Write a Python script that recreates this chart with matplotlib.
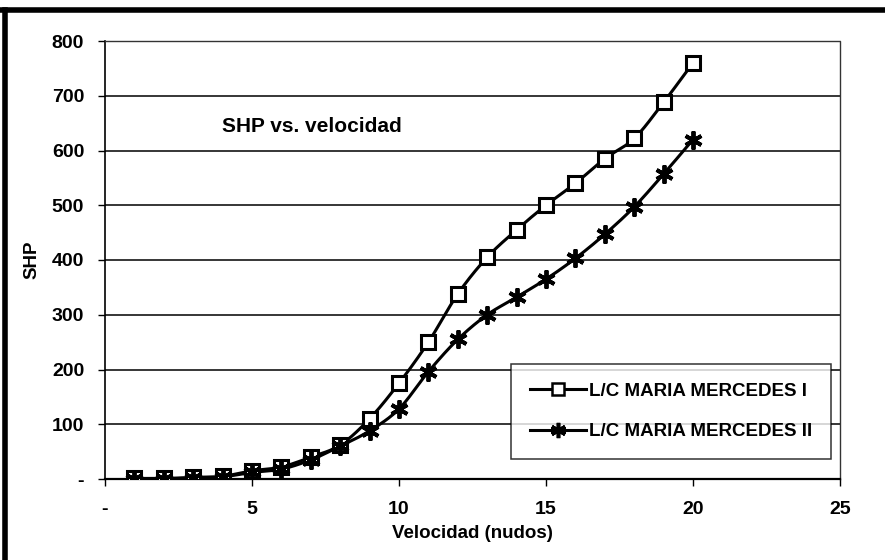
import numpy as np
import matplotlib
matplotlib.use("Agg")
import matplotlib.pyplot as plt
from matplotlib.lines import Line2D

# ---- data ----
velocidad = [1, 2, 3, 4, 5, 6, 7, 8, 9, 10, 11, 12, 13, 14, 15, 16, 17, 18, 19, 20]
shp_mm1 = [1, 1, 3, 5, 15, 22, 40, 62, 110, 175, 250, 338, 405, 455, 500, 540, 585, 622, 688, 760]
shp_mm2 = [0, 0, 2, 4, 12, 18, 35, 60, 88, 128, 196, 255, 300, 332, 365, 403, 447, 497, 557, 620]
series_names = ["L/C MARIA MERCEDES I", "L/C MARIA MERCEDES II"]
y_ticks = [0, 100, 200, 300, 400, 500, 600, 700, 800]
y_tick_labels = ["-", "100", "200", "300", "400", "500", "600", "700", "800"]
x_ticks = [0, 5, 10, 15, 20, 25]
x_tick_labels = ["-", "5", "10", "15", "20", "25"]
title_text = "SHP vs. velocidad"
x_label = "Velocidad (nudos)"
y_label = "SHP"

plt.rcParams['font.family'] = ['Liberation Sans', 'DejaVu Sans']
plt.rcParams['font.weight'] = 'bold'


def smooth(xs, ys, n=20):
    """Catmull-Rom style smoothing of the drawn line (like Excel smoothed lines)."""
    xs = np.asarray(xs, float)
    ys = np.asarray(ys, float)
    px = np.concatenate([[2 * xs[0] - xs[1]], xs, [2 * xs[-1] - xs[-2]]])
    py = np.concatenate([[2 * ys[0] - ys[1]], ys, [2 * ys[-1] - ys[-2]]])
    ox, oy = [], []
    t = np.linspace(0, 1, n, endpoint=False)
    for i in range(1, len(px) - 2):
        for arr, out in ((px, ox), (py, oy)):
            p0, p1, p2, p3 = arr[i - 1], arr[i], arr[i + 1], arr[i + 2]
            seg = 0.5 * ((2 * p1) + (-p0 + p2) * t + (2 * p0 - 5 * p1 + 4 * p2 - p3) * t ** 2
                         + (-p0 + 3 * p1 - 3 * p2 + p3) * t ** 3)
            out.extend(seg)
    ox.append(xs[-1])
    oy.append(ys[-1])
    return np.array(ox), np.array(oy)


fig = plt.figure(figsize=(8.85, 5.6), dpi=100)
ax = fig.add_axes([105 / 885, 1 - 479 / 560, (840 - 105) / 885, (479 - 41) / 560])

# gridlines
for yv in y_ticks[1:-1]:
    ax.axhline(yv, color='black', lw=1.1, zorder=1)

lw = 2.2
sx, sy = smooth(velocidad, shp_mm1)
ax.plot(sx, sy, color='black', lw=lw, zorder=3)
ax.plot(velocidad, shp_mm1, ls='none', marker='s', ms=10.5, mfc='white', mec='black', mew=2.2, zorder=4)
sx, sy = smooth(velocidad, shp_mm2)
ax.plot(sx, sy, color='black', lw=lw, zorder=3)
ax.plot(velocidad, shp_mm2, ls='none', marker=(6, 2, 0), ms=13, mec='black', mew=2.8, zorder=4)

ax.set_xlim(0, 25)
ax.set_ylim(0, 800)
ax.set_xticks(x_ticks)
ax.set_xticklabels(x_tick_labels)
ax.set_yticks(y_ticks)
ax.set_yticklabels(y_tick_labels)
ax.tick_params(axis='both', direction='out', length=5, width=1, labelsize=14, colors='black')
ax.tick_params(axis='x', pad=11)
ax.tick_params(axis='y', pad=10)
for lab in ax.get_xticklabels() + ax.get_yticklabels():
    lab.set_fontweight('bold')

for side in ('top', 'right'):
    ax.spines[side].set_linestyle((0, (1, 1)))
    ax.spines[side].set_linewidth(1.0)
    ax.spines[side].set_color('#333333')
ax.spines['left'].set_linewidth(1.2)
ax.spines['bottom'].set_linewidth(1.6)

ax.set_xlabel(x_label, fontsize=13.5, fontweight='bold', labelpad=5)
ax.set_ylabel(y_label, fontsize=13.5, fontweight='bold', labelpad=8)

ax.text(3.98, 643, title_text, fontsize=15, fontweight='heavy', va='center', ha='left')

handles = [
    Line2D([], [], color='black', lw=lw, marker='s', ms=8, mfc='white', mec='black', mew=1.8),
    Line2D([], [], color='black', lw=lw, marker=(6, 2, 0), ms=11, mec='black', mew=2.6),
]
leg = ax.legend(handles, series_names, loc='lower right', bbox_to_anchor=(831 / 885, 1 - 459 / 560),
                bbox_transform=fig.transFigure, fontsize=13.5, frameon=True, fancybox=False,
                edgecolor='black', borderpad=1.0, labelspacing=1.25, handlelength=3.0,
                handletextpad=0.15, borderaxespad=0)
leg._legend_box.align = "left"
leg.get_frame().set_linewidth(1.1)
for t in leg.get_texts():
    t.set_fontweight('bold')

# scanned page frame (thick top and left edges)
fig.add_artist(Line2D([0, 1], [1 - 10 / 560, 1 - 10 / 560], transform=fig.transFigure, color='black', lw=4))
fig.add_artist(Line2D([5 / 885, 5 / 885], [0, 1 - 10 / 560], transform=fig.transFigure, color='black', lw=4))

fig.savefig('out.png', dpi=100)
